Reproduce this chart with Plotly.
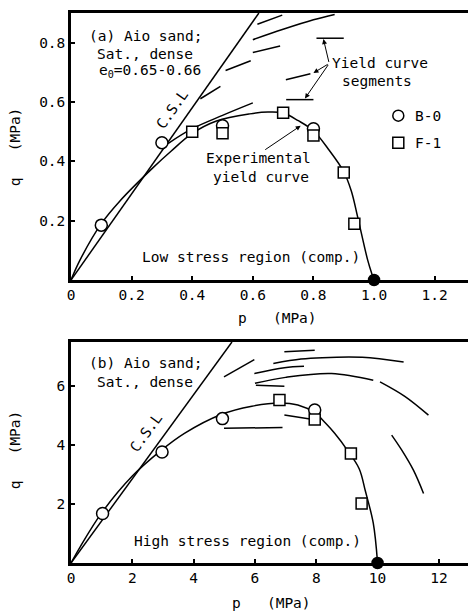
import plotly.graph_objects as go

# ---------------- Panel (a): low stress region ----------------
a_csl_p = [0, 0.62]
a_csl_q = [0, 0.90]

a_yield_p = [0, 0.03, 0.10, 0.16, 0.27, 0.33, 0.40, 0.48, 0.59, 0.65, 0.70, 0.75, 0.80, 0.85, 0.90, 0.925, 0.946, 0.979, 0.993, 1.0]
a_yield_q = [0, 0.068, 0.19, 0.265, 0.378, 0.434, 0.494, 0.536, 0.560, 0.566, 0.563, 0.537, 0.503, 0.44, 0.365, 0.30, 0.212, 0.067, 0.02, 0]

a_segments = [
    ([0.615, 0.697], [0.862, 0.893]),
    ([0.60, 0.70, 0.80, 0.87], [0.81, 0.845, 0.877, 0.895]),
    ([0.60, 0.69], [0.767, 0.789]),
    ([0.51, 0.593], [0.706, 0.739]),
    ([0.427, 0.493], [0.611, 0.653]),
    ([0.709, 0.79], [0.675, 0.695]),
    ([0.71, 0.80], [0.608, 0.608]),
    ([0.81, 0.90], [0.815, 0.815]),
    ([0.32, 0.40, 0.50, 0.60], [0.46, 0.51, 0.555, 0.597]),
]

a_b0_p = [0.10, 0.30, 0.50, 0.80]
a_b0_q = [0.185, 0.463, 0.52, 0.51]
a_f1_p = [0.40, 0.50, 0.70, 0.80, 0.90, 0.935]
a_f1_q = [0.50, 0.495, 0.564, 0.487, 0.362, 0.19]
a_end_p = [1.0]
a_end_q = [0.0]

a_xticks = [0, 0.2, 0.4, 0.6, 0.8, 1.0, 1.2]
a_xticklabels = ["0", "0.2", "0.4", "0.6", "0.8", "1.0", "1.2"]
a_yticks = [0.2, 0.4, 0.6, 0.8]
a_yticklabels = ["0.2", "0.4", "0.6", "0.8"]

# ---------------- Panel (b): high stress region ----------------
b_csl_p = [0, 5.25]
b_csl_q = [0, 7.5]

b_yield_p = [0, 0.3, 1.0, 2.0, 2.95, 3.7, 4.9, 5.9, 6.8, 7.4, 7.95, 8.3, 8.6, 9.0, 9.4, 9.6, 9.86, 10.0]
b_yield_q = [0, 0.55, 1.7, 2.95, 3.83, 4.4, 5.04, 5.32, 5.43, 5.36, 5.1, 4.75, 4.4, 3.85, 3.2, 2.45, 1.35, 0]

b_segments = [
    ([6.96, 7.95], [7.17, 7.22]),
    ([6.6, 7.5, 8.2, 9.5, 10.85], [6.77, 6.92, 6.97, 6.98, 6.82]),
    ([5.98, 6.96, 7.6], [6.43, 6.63, 6.68]),
    ([6.0, 7.0, 8.5, 9.86], [6.1, 6.3, 6.43, 6.2]),
    ([6.03, 6.96], [6.03, 6.0]),
    ([10.08, 10.9, 11.66], [6.15, 5.65, 5.02]),
    ([4.99, 5.98], [6.32, 6.9]),
    ([6.96, 7.9], [5.02, 4.87]),
    ([4.99, 6.9], [4.57, 4.6]),
    ([10.46, 10.79, 11.17, 11.5], [4.34, 3.83, 3.15, 2.36]),
]

b_b0_p = [1.03, 2.97, 4.94, 7.95]
b_b0_q = [1.68, 3.77, 4.9, 5.19]
b_f1_p = [6.8, 7.95, 9.13, 9.48]
b_f1_q = [5.53, 4.87, 3.72, 2.02]
b_end_p = [10.0]
b_end_q = [0.0]

b_xticks = [0, 2, 4, 6, 8, 10, 12]
b_xticklabels = ["0", "2", "4", "6", "8", "10", "12"]
b_yticks = [2, 4, 6]
b_yticklabels = ["2", "4", "6"]

# legend symbols (panel a)
leg_p = [1.08, 1.08]
leg_q = [0.554, 0.463]

FONT = "DejaVu Sans Mono"
FS = 14.5
LW = 1.5

fig = go.Figure()


def line(xs, ys, xa, ya, shape="spline", width=LW):
    fig.add_trace(go.Scatter(x=xs, y=ys, mode="lines", xaxis=xa, yaxis=ya,
                             line=dict(color="black", width=width, shape=shape, smoothing=1.0),
                             showlegend=False, hoverinfo="skip"))


def markers(xs, ys, xa, ya, symbol, size, fill="white"):
    fig.add_trace(go.Scatter(x=xs, y=ys, mode="markers", xaxis=xa, yaxis=ya,
                             marker=dict(symbol=symbol, size=size, color=fill,
                                         line=dict(color="black", width=1.5)),
                             showlegend=False, hoverinfo="skip", cliponaxis=False))


# panel a
line(a_csl_p, a_csl_q, "x", "y", shape="linear")
line(a_yield_p, a_yield_q, "x", "y")
for sp, sq in a_segments:
    line(sp, sq, "x", "y")
markers(a_b0_p, a_b0_q, "x", "y", "circle", 12)
markers(a_f1_p, a_f1_q, "x", "y", "square", 11)
markers(a_end_p, a_end_q, "x", "y", "circle", 11, fill="black")
markers([leg_p[0]], [leg_q[0]], "x", "y", "circle", 11)
markers([leg_p[1]], [leg_q[1]], "x", "y", "square", 11)

# panel b
line(b_csl_p, b_csl_q, "x2", "y2", shape="linear")
line(b_yield_p, b_yield_q, "x2", "y2")
for sp, sq in b_segments:
    line(sp, sq, "x2", "y2")
markers(b_b0_p, b_b0_q, "x2", "y2", "circle", 12)
markers(b_f1_p, b_f1_q, "x2", "y2", "square", 11)
markers(b_end_p, b_end_q, "x2", "y2", "circle", 11, fill="black")

font = dict(family=FONT, size=FS, color="black")


def txt(x, y, s, xref="x", yref="y", xanchor="left", angle=0):
    return dict(x=x, y=y, xref=xref, yref=yref, text=s, showarrow=False,
                xanchor=xanchor, yanchor="middle", font=font, textangle=angle)


def arrow(x0, y0, x1, y1, xref="x", yref="y"):
    return dict(x=x1, y=y1, ax=x0, ay=y0, xref=xref, yref=yref, axref=xref, ayref=yref,
                text="", showarrow=True, arrowhead=2, arrowsize=1, arrowwidth=1, arrowcolor="black")


NB = "\u00a0"
annotations = [
    txt(0.053, 0.824, "(a) Aio sand;"),
    txt(0.079, 0.763, "Sat., dense"),
    txt(0.086, 0.706, "e<sub>0</sub>=0.65-0.66"),
    txt(0.334, 0.577, "C.S.L", xanchor="center", angle=-55),
    txt(0.855, 0.733, "Yield curve"),
    txt(0.888, 0.672, "segments"),
    txt(0.618, 0.41, "Experimental", xanchor="center"),
    txt(0.628, 0.346, "yield curve", xanchor="center"),
    txt(0.228, 0.077, "Low stress region (comp.)"),
    txt(1.128, 0.554, "B-0"),
    txt(1.128, 0.463, "F-1"),
    arrow(0.636, 0.436, 0.758, 0.52),
    arrow(0.852, 0.73, 0.833, 0.812),
    arrow(0.852, 0.73, 0.80, 0.698),
    arrow(0.852, 0.73, 0.772, 0.612),
    # panel b
    txt(0.52, 6.78, "(b) Aio sand;", "x2", "y2"),
    txt(0.78, 6.14, "Sat., dense", "x2", "y2"),
    txt(2.46, 4.44, "C.S.L", "x2", "y2", xanchor="center", angle=-54),
    txt(1.98, 0.75, "High stress region (comp.)", "x2", "y2"),
    # axis titles
    txt(-0.141, 0.756, "q" + NB * 3 + "(MPa)", "paper", "paper", xanchor="center", angle=-90),
    txt(-0.141, 0.205, "q" + NB * 3 + "(MPa)", "paper", "paper", xanchor="center", angle=-90),
    txt(0.521, 0.445, "p" + NB * 3 + "(MPa)", "paper", "paper", xanchor="center"),
    txt(0.505, -0.073, "p" + NB * 3 + "(MPa)", "paper", "paper", xanchor="center"),
]

axis_common = dict(showgrid=False, zeroline=False, showline=True, linecolor="black", linewidth=2.5,
                   ticks="inside", ticklen=4, tickwidth=1.5, tickcolor="black",
                   tickfont=dict(family=FONT, size=FS, color="black"))

fig.update_layout(
    width=468, height=612,
    margin=dict(l=71, r=0, t=13, b=49),
    paper_bgcolor="white", plot_bgcolor="white",
    showlegend=False,
    annotations=annotations,
    xaxis=dict(domain=[0, 1], anchor="y", range=[0, 1.31], tickvals=a_xticks, ticktext=a_xticklabels,
               mirror=True, **axis_common),
    yaxis=dict(domain=[0.5145, 1], anchor="x", range=[0, 0.9], tickvals=a_yticks, ticktext=a_yticklabels,
               **axis_common),
    xaxis2=dict(domain=[0, 1], anchor="y2", range=[0, 12.95], tickvals=b_xticks, ticktext=b_xticklabels,
                mirror=True, **axis_common),
    yaxis2=dict(domain=[0, 0.4018], anchor="x2", range=[0, 7.5], tickvals=b_yticks, ticktext=b_yticklabels,
                **axis_common),
)

fig.write_html("out.html")
